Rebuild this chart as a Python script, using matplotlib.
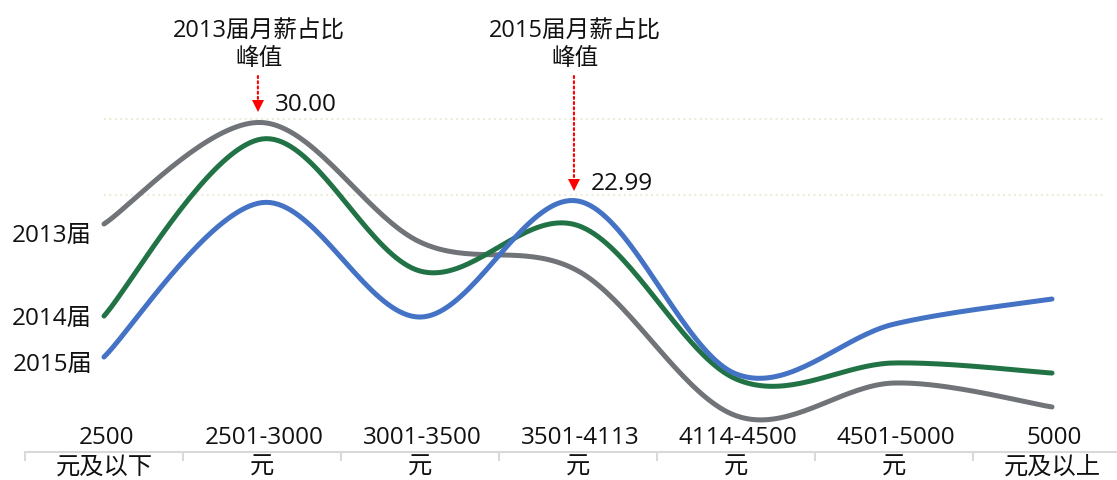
import numpy as np
import matplotlib.pyplot as plt
from matplotlib.transforms import offset_copy

plt.rcParams['font.family'] = ['Open Sans', 'Noto Sans CJK SC', 'DejaVu Sans']

# 月薪区间（上下两行）
cat_top = ['2500', '2501-3000', '3001-3500', '3501-4113', '4114-4500', '4501-5000', '5000']
cat_bottom = ['元及以下', '元', '元', '元', '元', '元', '元及以上']

# 各届毕业生月薪区间占比（%）
names = ['2013届', '2014届', '2015届']
share_2013 = [20.94, 30.00, 19.33, 16.75, 3.82, 6.74, 4.60]
share_2014 = [12.72, 28.53, 16.74, 20.80, 7.10, 8.53, 7.63]
share_2015 = [9.06, 22.85, 12.63, 22.99, 7.55, 12.00, 14.24]

# 峰值标注: (系列序号, 区间序号, 文字)
peaks = [(0, 1, '2013届月薪占比\n峰值'), (2, 3, '2015届月薪占比\n峰值')]

grid_levels = [30.31, 23.53]

colors = ['#707377', '#217346', '#4472c4']
label_dy = [-11, -2, -7]
fs = 17.5


def smooth(xs, ys, n=40):
    # Excel 风格的平滑线（贝塞尔，控制点取相邻点差的 1/6）
    p = np.column_stack([xs, ys]).astype(float)
    pts = np.vstack([p[0], p, p[-1]])
    t = np.linspace(0, 1, n)[:, None]
    out = []
    for i in range(1, len(pts) - 2):
        p0, p1, p2, p3 = pts[i - 1], pts[i], pts[i + 1], pts[i + 2]
        c1 = p1 + (p2 - p0) / 6
        c2 = p2 - (p3 - p1) / 6
        seg = (1 - t) ** 3 * p1 + 3 * (1 - t) ** 2 * t * c1 + 3 * (1 - t) * t ** 2 * c2 + t ** 3 * p2
        out.append(seg if i == 1 else seg[1:])
    out = np.vstack(out)
    return out[:, 0], out[:, 1]


fig = plt.figure(figsize=(11.17, 4.81), dpi=100)
ax = fig.add_axes([25 / 1117, 28 / 481, 1106 / 1117, 453 / 481])
ax.set_xlim(-0.5, 6.5)
ax.set_ylim(0.58, 41.03)

for s in ['top', 'right', 'left']:
    ax.spines[s].set_visible(False)
ax.spines['bottom'].set_color('#d9d9d9')
ax.spines['bottom'].set_linewidth(1.5)
ax.set_yticks([])
ax.set_xticks(np.arange(-0.5, 7, 1))
ax.set_xticklabels([])
ax.tick_params(axis='x', direction='out', length=6.5, width=1.5, color='#d9d9d9')

ax.hlines(grid_levels, 0, 6.32, colors='#e8e8cf', linestyles=(0, (1, 2)), lw=1.3, zorder=1)

x = np.arange(len(cat_top))
all_series = [share_2013, share_2014, share_2015]
curves = []
for vals, name, c, dy in zip(all_series, names, colors, label_dy):
    sx, sy = smooth(x, vals)
    curves.append((sx, sy))
    ax.plot(sx, sy, color=c, lw=3.6, solid_capstyle='round', zorder=3)
    ax.annotate(name, xy=(0, vals[0]), xytext=(-12, dy), textcoords='offset pixels',
                ha='right', va='center', fontsize=fs, color='#111111')

xt = ax.get_xaxis_transform()
for i, (top, bot) in enumerate(zip(cat_top, cat_bottom)):
    ax.annotate(top, xy=(i, 0), xycoords=xt, xytext=(2, 15), textcoords='offset pixels',
                ha='center', va='center', fontsize=fs, color='#111111')
    ax.annotate(bot, xy=(i, 0), xycoords=xt, xytext=(0, -15), textcoords='offset pixels',
                ha='center', va='center', fontsize=fs, color='#111111')

for si, ci, note in peaks:
    sx, sy = curves[si]
    near = np.abs(sx - ci) < 0.5
    j = np.argmax(np.where(near, sy, -np.inf))
    px, py = sx[j], sy[j]
    ax.annotate(f'{all_series[si][ci]:.2f}', xy=(px, py), xytext=(17, 18),
                textcoords='offset pixels', ha='left', va='center', fontsize=fs, color='#111111')
    ax.annotate(note, xy=(px, 0.9007), xycoords=xt, xytext=(1, 0), textcoords='offset pixels',
                ha='center', va='center', fontsize=17, linespacing=1.2, color='#111111')
    ax.annotate('', xy=(px, py), xytext=(px, 0.83), textcoords=xt,
                arrowprops=dict(arrowstyle='-', color='red', linestyle=(0, (1, 1.5)), lw=1.5,
                                shrinkA=0, shrinkB=15))
    ax.plot([px], [py], marker='v', color='red', ms=8.5, mew=0,
            transform=offset_copy(ax.transData, fig=fig, x=0, y=16, units='dots'), zorder=4)

fig.savefig('out.png', dpi=100)
